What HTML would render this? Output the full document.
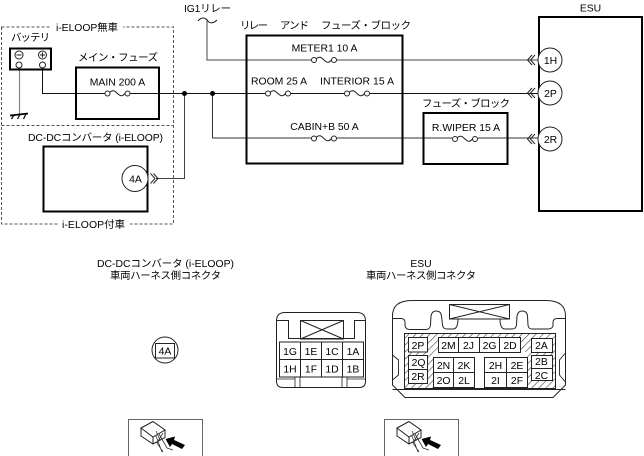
<!DOCTYPE html>
<html><head><meta charset="utf-8"><style>
html,body{margin:0;padding:0;background:#fff}
svg{display:block}
text{font-family:"Liberation Sans","Noto Sans CJK JP",sans-serif;font-size:10.4px;fill:#000}
.m{text-anchor:middle}
</style></head><body>
<svg width="644" height="456" viewBox="0 0 644 456" xmlns="http://www.w3.org/2000/svg">
<defs>
<g id="f"><rect x="0" y="-3" width="26" height="6.5" fill="#fff"/><circle cx="3" cy="0" r="2.5" fill="#fff" stroke="#222" stroke-width="1"/><circle cx="23" cy="0" r="2.5" fill="#fff" stroke="#222" stroke-width="1"/><path d="M5 -1C8 -4 10 -3 13 0C16 3 18 3 20.5 0" fill="none" stroke="#222" stroke-width="1"/></g>
<g id="icon"><rect x="128.500" y="419.500" width="74" height="50" fill="#fff" stroke="#666" stroke-width="1"/>
<path d="M141 428L153 421.500L165 430L153 437ZM141 428V436L153 444L165 437.500V430M153 437V444" fill="#fff" stroke="#222" stroke-width="1"/>
<path d="M156 436L162 452M159 434L167 448L173 450M163 433L157 443L163 452M156 431L160 440" fill="none" stroke="#333" stroke-width=".8"/>
<polygon points="165.500,439 175,436.500 174,440 185,445 182,449 172,444 170,447" fill="#000"/></g>
<pattern id="h" width="5" height="5" patternUnits="userSpaceOnUse" patternTransform="rotate(45)"><rect width="5" height="5" fill="#fff"/><line x1="0" y1="0" x2="0" y2="5" stroke="#444" stroke-width="1.200"/></pattern>
</defs>

<!-- dashed frame -->
<path d="M1.500 27H173.500V224H1.500ZM1.500 125.500H173.500" fill="none" stroke="#555" stroke-width="1" stroke-dasharray="3 2"/>
<rect x="51" y="20" width="72" height="14" fill="#fff"/>
<rect x="58" y="218" width="72" height="14" fill="#fff"/>
<text x="56" y="31" textLength="62">i-ELOOP無車</text>
<text x="62" y="228" textLength="63">i-ELOOP付車</text>

<!-- wires -->
<g fill="none" stroke="#111" stroke-width="1">
<path d="M42.500 68V93.500H538"/>
<path d="M212.500 93.500V138H538" stroke="#333"/>
<path d="M207 20V60H538" stroke="#444"/>
<path d="M184.500 93.500V178.500H156" stroke="#444"/>
<path d="M19.500 68V114" stroke="#888" stroke-width="1.200"/>
<path d="M198 21C201 17 205 17 208 21C210 24 214 23 217 20" stroke-width=".9"/>
</g>
<circle cx="184.500" cy="93.500" r="2.500" fill="#000"/>
<circle cx="212.500" cy="93.500" r="2.500" fill="#000"/>

<!-- battery -->
<rect x="10" y="48.500" width="41" height="21" fill="none" stroke="#000" stroke-width="2"/>
<g fill="#fff" stroke="#222" stroke-width="1">
<circle cx="19" cy="55" r="4"/><circle cx="42.500" cy="55" r="4"/>
<circle cx="19" cy="65" r="3"/><circle cx="42.500" cy="65" r="3"/>
</g>
<path d="M16.500 55H21.500M40 55H45M42.500 52.500V57.500" stroke="#222" stroke-width="1"/>
<path d="M10 115.500L28 113.500" stroke="#000" stroke-width="1.800"/>
<path d="M14 115L11.500 119M20 114.500L17.500 119M26 114L23.500 119" stroke="#000" stroke-width="1.200"/>
<text x="11" y="41" textLength="39">バッテリ</text>

<!-- main fuse -->
<rect x="76" y="67.500" width="83" height="51.500" fill="none" stroke="#000" stroke-width="2"/>
<text x="78" y="61" textLength="80">メイン・フューズ</text>
<text x="117.500" y="85.500" class="m">MAIN 200 A</text>
<use href="#f" x="104.500" y="93.500"/>

<!-- DC-DC -->
<text x="28" y="141" textLength="135">DC-DCコンバータ (i-ELOOP)</text>
<rect x="43.500" y="146.500" width="104" height="65" fill="none" stroke="#000" stroke-width="2"/>
<circle cx="135" cy="178.500" r="13" fill="#fff" stroke="#222" stroke-width="1"/>
<text x="135.500" y="182.500" class="m">4A</text>
<path d="M150.500 173.500L155 178.500L150.500 183.500M153.500 173.500L158 178.500L153.500 183.500" fill="none" stroke="#222" stroke-width="1"/>

<!-- relay block -->
<text x="184" y="12" textLength="47">IG1リレー</text>
<text x="240" y="29" textLength="28">リレー</text>
<text x="280" y="29" textLength="29">アンド</text>
<text x="321" y="29" textLength="90">フューズ・ブロック</text>
<rect x="246.500" y="35.500" width="156" height="128" fill="none" stroke="#000" stroke-width="2"/>
<text x="324.500" y="51.500" class="m">METER1 10 A</text>
<text x="251" y="84.500" textLength="56">ROOM 25 A</text>
<text x="320" y="84.500" textLength="74">INTERIOR 15 A</text>
<text x="324.500" y="130" class="m">CABIN+B 50 A</text>
<use href="#f" x="311" y="60"/>
<use href="#f" x="265" y="93.500"/>
<use href="#f" x="344" y="93.500"/>
<use href="#f" x="311" y="138.500"/>

<!-- fuse block -->
<text x="422" y="107" textLength="88">フューズ・ブロック</text>
<rect x="423.500" y="113" width="84" height="51" fill="none" stroke="#000" stroke-width="2"/>
<text x="466" y="131" class="m">R.WIPER 15 A</text>
<use href="#f" x="452" y="139"/>

<!-- ESU -->
<text x="590.500" y="11.500" class="m">ESU</text>
<rect x="539" y="17" width="103" height="194" fill="none" stroke="#000" stroke-width="2"/>
<g fill="#fff" stroke="#222" stroke-width="1">
<circle cx="550" cy="60" r="12"/><circle cx="550" cy="93" r="12"/><circle cx="550" cy="139" r="12"/>
</g>
<path d="M532 55L527.500 60L532 65M535 55L530.500 60L535 65M532 88L527.500 93L532 98M535 88L530.500 93L535 98M532 134L527.500 139L532 144M535 134L530.500 139L535 144" fill="none" stroke="#222" stroke-width="1"/>
<text x="550.500" y="64" class="m">1H</text>
<text x="550.500" y="97" class="m">2P</text>
<text x="550.500" y="143" class="m">2R</text>

<!-- bottom labels -->
<text x="97" y="267" textLength="137">DC-DCコンバータ (i-ELOOP)</text>
<text x="110" y="279" textLength="111">車両ハーネス側コネクタ</text>
<text x="421" y="267" class="m">ESU</text>
<text x="366" y="279" textLength="110">車両ハーネス側コネクタ</text>

<!-- 4A connector -->
<circle cx="165" cy="350" r="13" fill="none" stroke="#222" stroke-width="1"/>
<rect x="155.500" y="343.500" width="19" height="14.500" fill="#fff" stroke="#222" stroke-width="1"/>
<text x="165" y="354.500" class="m">4A</text>

<!-- connector 1 -->
<g fill="none" stroke="#222" stroke-width="1">
<path d="M276.500 321Q276.500 312.500 285 312.500H357Q365.500 312.500 365.500 321V381Q365.500 387.500 359 387.500H283Q276.500 387.500 276.500 381Z"/>
<path d="M276.500 320.500H288.500V338.500H354.500V320.500H365.500"/>
<path d="M300.500 320.500H343.500V339H300.500ZM300.500 320.500L343.500 339M343.500 320.500L300.500 339"/>
<rect x="279.500" y="342" width="84" height="35" fill="#fff"/>
<path d="M279.500 359.500H363.500M300.500 342V377M321.500 342V377M342.500 342V377"/>
<path d="M276.500 379H295V387M295 377V387M300 377V387M342 377V387M347 377V387M347 379H365.500" stroke-width=".8"/>
</g>
<text x="290" y="355" class="m">1G</text><text x="311" y="355" class="m">1E</text><text x="332" y="355" class="m">1C</text><text x="353" y="355" class="m">1A</text>
<text x="290" y="372.500" class="m">1H</text><text x="311" y="372.500" class="m">1F</text><text x="332" y="372.500" class="m">1D</text><text x="353" y="372.500" class="m">1B</text>

<!-- connector 2 -->
<g fill="none" stroke="#222" stroke-width="1">
<path d="M392.500 318V316Q392.500 300.500 412 300.500H546Q565.500 300.500 565.500 316V385L553 397.500H405L392.500 385Z"/>
<path d="M392.500 318.500H401Q405 318.500 405 323V326Q406 329.500 410 329.500H426Q430 329.500 430.500 325L431 316Q432 311 436 311Q441 311 441.500 316L442.500 325Q443 329 447 329H453Q458 329 458 318.500"/>
<path d="M500 318.500Q500 329 505 329H512Q516 329 516.500 325L517 316Q518 311 522 311Q527 311 527.500 316L528 325Q528.500 329 532 329H548Q552 329 553 326V323Q553 318.500 557 318.500H565.500"/>
<path d="M449.500 304.500H509.500V319H449.500ZM449.500 304.500L509.500 319M509.500 304.500L449.500 319"/>
<path d="M392.500 355L398.500 360V375L392.500 380M565.500 353L559.500 360V375L565.500 382M392.500 389.500H565.500" stroke-width=".9"/>
<rect x="404.500" y="333.500" width="151" height="55" fill="url(#h)"/>
<rect x="433.500" y="352" width="94" height="36" fill="#fff" stroke="none"/>
<g fill="#fff">
<rect x="408.500" y="337.500" width="19" height="14.500"/>
<rect x="408.500" y="355.500" width="19" height="28"/>
<rect x="438.500" y="337.500" width="82" height="15"/>
<rect x="433.500" y="357.500" width="41" height="30"/>
<rect x="484.500" y="357.500" width="43" height="30"/>
<rect x="531.500" y="338.500" width="21" height="14"/>
<rect x="531.500" y="355.500" width="21" height="25"/>
</g>
<path d="M408.500 369.500H427.500M458.500 337.500V352.500M479.500 337.500V352.500M499.500 337.500V352.500M453.500 357.500V387.500M433.500 372.500H474.500M506.500 357.500V387.500M484.500 372.500H527.500M531.500 368.500H552.500"/>
</g>
<text x="418" y="349" class="m">2P</text><text x="418.500" y="366" class="m">2Q</text><text x="418" y="380" class="m">2R</text>
<text x="448.500" y="349" class="m">2M</text><text x="468.500" y="349" class="m">2J</text><text x="489.500" y="349" class="m">2G</text><text x="510" y="349" class="m">2D</text>
<text x="443.500" y="369" class="m">2N</text><text x="464" y="369" class="m">2K</text><text x="443.500" y="384" class="m">2O</text><text x="464" y="384" class="m">2L</text>
<text x="495.500" y="369" class="m">2H</text><text x="517" y="369" class="m">2E</text><text x="495.500" y="384" class="m">2I</text><text x="517" y="384" class="m">2F</text>
<text x="541.500" y="349" class="m">2A</text><text x="541.500" y="365" class="m">2B</text><text x="541.500" y="379" class="m">2C</text>

<!-- view icons -->
<use href="#icon"/>
<use href="#icon" x="256"/>
</svg>
</body></html>
